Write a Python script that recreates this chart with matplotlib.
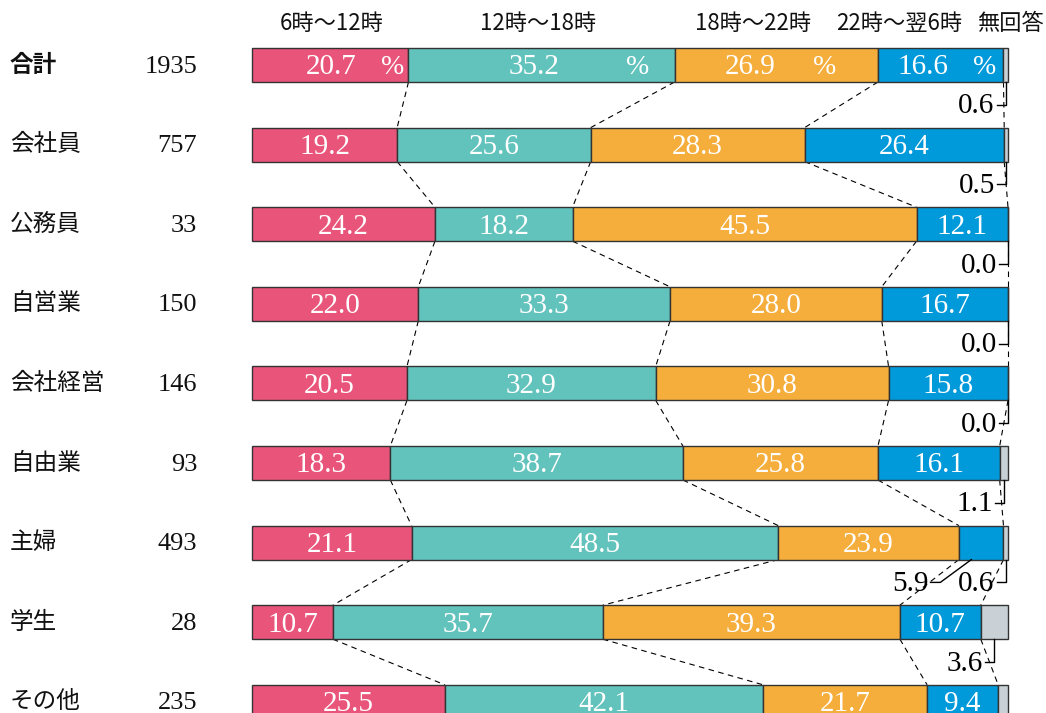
import numpy as np
import matplotlib
matplotlib.use("Agg")
import matplotlib.pyplot as plt

# data
groups = ["合計", "会社員", "公務員", "自営業", "会社経営", "自由業", "主婦", "学生", "その他"]
counts = [1935, 757, 33, 150, 146, 93, 493, 28, 235]
slots = ["6時〜12時", "12時〜18時", "18時〜22時", "22時〜翌6時", "無回答"]
morning = [20.7, 19.2, 24.2, 22.0, 20.5, 18.3, 21.1, 10.7, 25.5]
daytime = [35.2, 25.6, 18.2, 33.3, 32.9, 38.7, 48.5, 35.7, 42.1]
evening = [26.9, 28.3, 45.5, 28.0, 30.8, 25.8, 23.9, 39.3, 21.7]
night = [16.6, 26.4, 12.1, 16.7, 15.8, 16.1, 5.9, 10.7, 9.4]
no_answer = [0.6, 0.5, 0.0, 0.0, 0.0, 1.1, 0.6, 3.6, 1.3]

colors = ["#E9557A", "#62C2BC", "#F5AD3B", "#0099DA", "#C9D1D7"]
serif = "Liberation Serif"
cjk = ["Noto Sans CJK JP", "DejaVu Sans"]

# pixel layout: bars from x=252px to 1008px, rows every 79.6px starting at 65px
W, H = 1046, 713
px_per_pct = 7.56
x_left = 252
row_step = 79.6
row0 = 65
bar_h = 34 / row_step

def px2x(p):
    return (p - x_left) / px_per_pct

def py2y(p):
    return (p - row0) / row_step

fig = plt.figure(figsize=(W / 100, H / 100), dpi=100)
ax = fig.add_axes([0, 0, 1, 1])
ax.set_xlim(px2x(0), px2x(W))
ax.set_ylim(py2y(H), py2y(0))
ax.axis("off")

data = np.array([morning, daytime, evening, night, no_answer]).T
cum = np.hstack([np.zeros((len(groups), 1)), np.cumsum(data, axis=1)])
ys = np.arange(len(groups))

# bars
for k in range(5):
    ax.barh(ys, data[:, k], left=cum[:, k], height=bar_h, color=colors[k],
            edgecolor="#333333", linewidth=1.0, zorder=2)

# dashed connectors between segment borders
for i in range(len(groups) - 1):
    for k in range(1, 5):
        ax.plot([cum[i, k], cum[i + 1, k]], [i + bar_h / 2, i + 1 - bar_h / 2],
                color="black", lw=0.8, ls=(0, (5, 4)), zorder=1)

# header
header_px = [332, 538, 753, 899, 1010]
for s, hx in zip(slots, header_px):
    ax.text(px2x(hx), py2y(23), s, ha="center", va="center", fontsize=16,
            family=cjk, color="#111111")

# left columns
for i, (g, n) in enumerate(zip(groups, counts)):
    ax.text(px2x(10), i, g, ha="left", va="center", fontsize=17, family=cjk,
            fontweight="bold" if i == 0 else "normal", color="#111111")
    ax.text(px2x(197), i + 0.02, str(n), ha="right", va="center", fontsize=19,
            family=serif, color="#111111")

# in-bar values
first_row_px = [331, 534, 750, 923]
pct_px = [393, 638, 825, 985]
fs = 21
for i in range(len(groups)):
    for k in range(4):
        v = data[i, k]
        if i == 0:
            ax.text(px2x(first_row_px[k]), i + 0.03, f"{v:.1f}", ha="center",
                    va="center", fontsize=fs, family=serif, color="white", zorder=3)
            ax.text(px2x(pct_px[k]), i + 0.03, "%", ha="center", va="center",
                    fontsize=20, family=serif, color="white", zorder=3)
        elif v >= 9:
            ax.text(cum[i, k] + v / 2, i + 0.03, f"{v:.1f}", ha="center",
                    va="center", fontsize=fs, family=serif, color="white", zorder=3)

# outside labels with leader lines
lab_dy = 0.5
tick = 1.2
for i in range(len(groups) - 1):
    v = no_answer[i]
    yb = i + bar_h / 2
    yl = i + lab_dy
    xc = cum[i, 4] + v / 2
    ax.plot([xc, xc, xc - tick], [yb, yl, yl], color="black", lw=1.0, zorder=3)
    ax.text(xc - tick - 0.3, yl + 0.02, f"{v:.1f}", ha="right", va="center",
            fontsize=fs, family=serif, color="black")
    v2 = night[i]
    if i > 0 and v2 < 9:
        xs = cum[i, 3] + v2 / 2 - 1.3
        ax.plot([xs, xs - 4.1, xs - 5.4], [yb, yl, yl], color="black", lw=1.0, zorder=3)
        ax.text(xs - 5.7, yl + 0.02, f"{v2:.1f}", ha="right", va="center",
                fontsize=fs, family=serif, color="black")

fig.savefig("out.png", dpi=100)
